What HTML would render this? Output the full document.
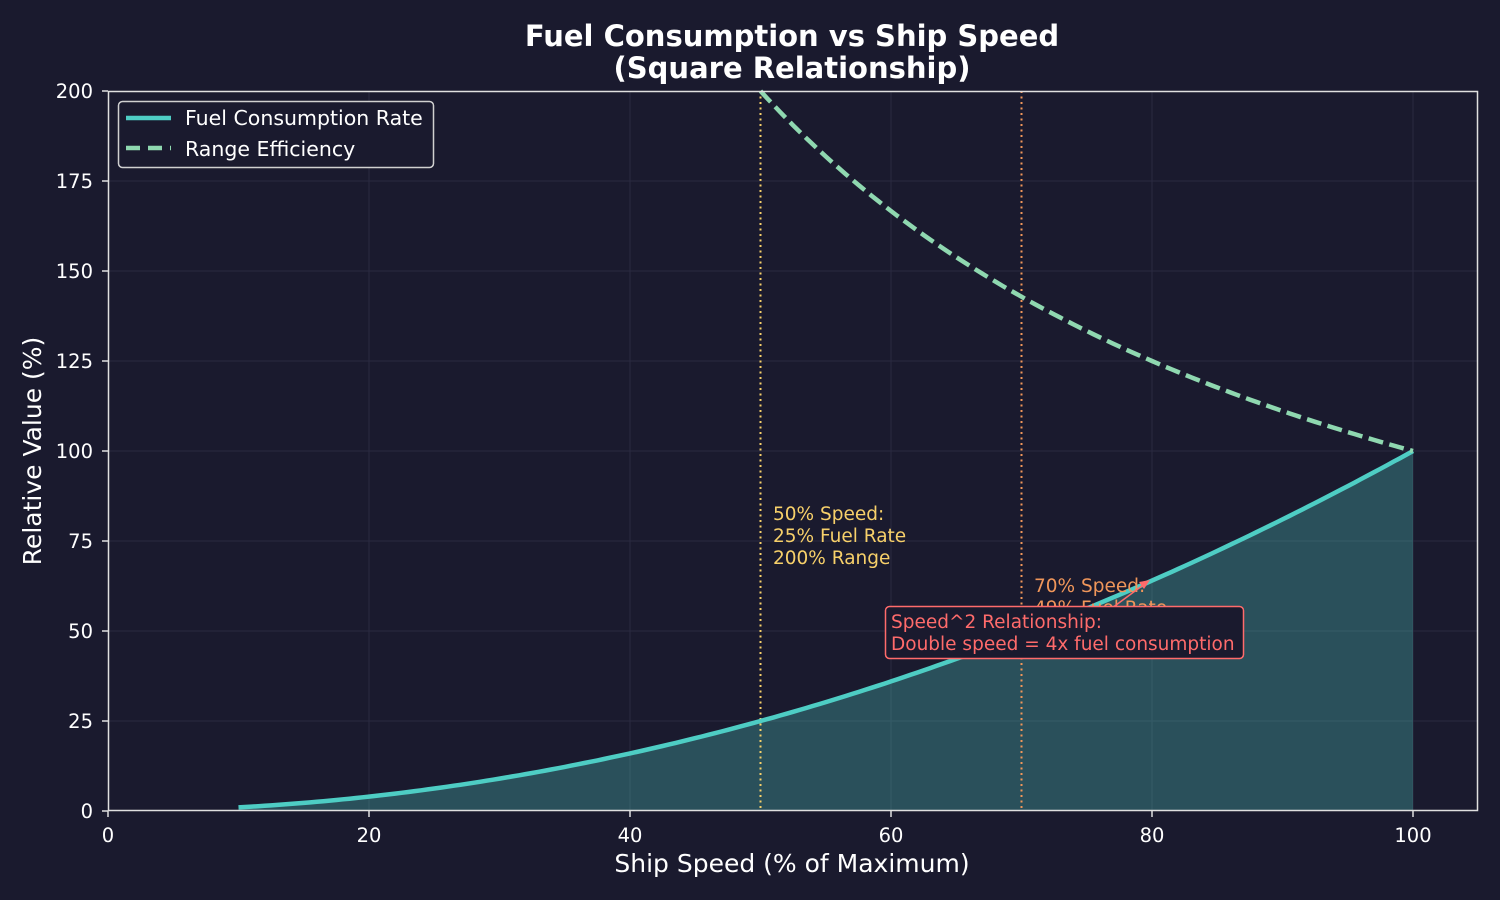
<!DOCTYPE html>
<html><head><meta charset="utf-8"><style>
html,body{margin:0;padding:0;background:#1a1a2e;}
svg{display:block;font-family:"DejaVu Sans","Liberation Sans",sans-serif;}
</style></head><body>
<svg id="s" width="1500" height="900" xmlns="http://www.w3.org/2000/svg">
<rect width="1500" height="900" fill="#1a1a2e"/>
<g id="grid" stroke="#2a2a40" stroke-width="1"></g>
<path id="fill" fill="#4ecdc4" fill-opacity="0.3"/>
<line x1="760.5" y1="91" x2="760.5" y2="811" stroke="#f7d06a" stroke-width="2" stroke-dasharray="2,3.5"/>
<line x1="1021.5" y1="91" x2="1021.5" y2="811" stroke="#f0965a" stroke-width="2" stroke-dasharray="2,3.5"/>
<path id="fuel" fill="none" stroke="#4ecdc4" stroke-width="4.5"/>
<path id="rng" fill="none" stroke="#8fd8b0" stroke-width="4.5" stroke-dasharray="15,6.5"/>
<g font-size="18.5" fill="#f7d06a">
<text x="773" y="520">50% Speed:</text>
<text x="773" y="542">25% Fuel Rate</text>
<text x="773" y="564">200% Range</text>
</g>
<g font-size="18.5" fill="#f0965a">
<text x="1034" y="592">70% Speed:</text>
<text x="1034" y="614">49% Fuel Rate</text>
</g>
<line x1="1112" y1="608" x2="1146" y2="583" stroke="#ff6b6b" stroke-width="1.5"/>
<path d="M1150,580 L1139,582 L1144,589 Z" fill="#ff6b6b"/>
<rect x="885.5" y="606.5" width="358" height="52" rx="4" fill="#1a1a2e" stroke="#ff6b6b" stroke-width="1.5"/>
<g font-size="18.5" fill="#ff6b6b">
<text x="891" y="628">Speed^2 Relationship:</text>
<text x="891" y="650">Double speed = 4x fuel consumption</text>
</g>
<rect x="108.5" y="91.5" width="1369" height="719" fill="none" stroke="#e0e0e0" stroke-width="1.5"/>
<g id="ticks" font-size="19.5" fill="#ffffff"></g>
<rect x="118.5" y="101.5" width="315" height="66" rx="4" fill="#1a1a2e" stroke="#d0d0d0" stroke-width="1.5"/>
<line x1="126" y1="118" x2="171" y2="118" stroke="#4ecdc4" stroke-width="4.5"/>
<line x1="126" y1="148" x2="171" y2="148" stroke="#8fd8b0" stroke-width="4.5" stroke-dasharray="14,8"/>
<text x="185" y="125" font-size="20.5" fill="#fff">Fuel Consumption Rate</text>
<text x="185" y="156" font-size="20.5" fill="#fff">Range Efficiency</text>
<text x="792" y="46" font-size="29" font-weight="bold" fill="#fff" text-anchor="middle">Fuel Consumption vs Ship Speed</text>
<text x="792" y="78" font-size="29" font-weight="bold" fill="#fff" text-anchor="middle">(Square Relationship)</text>
<text x="792" y="872" font-size="25" fill="#fff" text-anchor="middle">Ship Speed (% of Maximum)</text>
<text transform="translate(41,451) rotate(-90)" font-size="25" fill="#fff" text-anchor="middle">Relative Value (%)</text>
</svg>
<script>
const X=v=>108+v*13.05, Y=v=>811-v*3.6;
let f="",r="";
for(let i=0;i<=180;i++){const x=10+i*0.5;f+=(i?"L":"M")+X(x).toFixed(1)+","+Y(x*x/100).toFixed(1);}
document.getElementById("fuel").setAttribute("d",f);
document.getElementById("fill").setAttribute("d",f+"L"+X(100)+","+Y(0)+"L"+X(10)+","+Y(0)+"Z");
for(let i=0;i<=100;i++){const x=50+i*0.5;r+=(i?"L":"M")+X(x).toFixed(1)+","+Y(10000/x).toFixed(1);}
document.getElementById("rng").setAttribute("d",r);
const g=document.getElementById("grid"),t=document.getElementById("ticks");let h="",tt="";
for(let v=0;v<=100;v+=20){const x=X(v);if(v>0)h+=`<line x1="${x}" y1="91" x2="${x}" y2="811"/>`;
tt+=`<line x1="${x}" y1="811" x2="${x}" y2="817" stroke="#e0e0e0" stroke-width="1.5"/><text x="${x}" y="842" text-anchor="middle">${v}</text>`;}
for(let v=0;v<=200;v+=25){const y=Y(v);if(v>0&&v<200)h+=`<line x1="108" y1="${y}" x2="1478" y2="${y}"/>`;
tt+=`<line x1="102" y1="${y}" x2="108" y2="${y}" stroke="#e0e0e0" stroke-width="1.5"/><text x="93" y="${y+7}" text-anchor="end">${v}</text>`;}
g.innerHTML=h;t.innerHTML=tt;
</script>
</body></html>
